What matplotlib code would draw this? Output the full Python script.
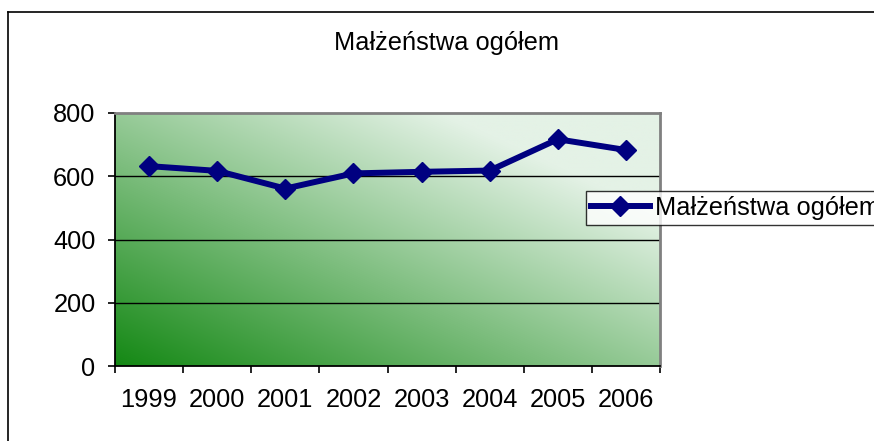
import numpy as np
import matplotlib
matplotlib.use("Agg")
import matplotlib.pyplot as plt
from matplotlib.lines import Line2D

years = ["1999", "2000", "2001", "2002", "2003", "2004", "2005", "2006"]
values = [632, 617, 561, 609, 614, 618, 717, 683]
series_name = "Małżeństwa ogółem"
title = "Małżeństwa ogółem"
y_ticks = [0, 200, 400, 600, 800]

plt.rcParams['font.family'] = ['Liberation Sans', 'DejaVu Sans']

W, H = 874, 441
FS = 18.3
fig = plt.figure(figsize=(W / 100, H / 100), dpi=100)
fig.patch.set_facecolor("white")

ax = fig.add_axes([115 / W, 1 - 366 / H, 545 / W, 253 / H])

# diagonal gradient background (bottom-left green -> top-right pale)
n = 400
gx, gy = np.meshgrid(np.linspace(0, 1, n), np.linspace(0, 1, n))
t = np.clip((gx + gy) / 1.6, 0, 1)
c0 = np.array([20, 136, 20]) / 255.0
c1 = np.array([228, 242, 230]) / 255.0
img = c0[None, None, :] * (1 - t[..., None]) + c1[None, None, :] * t[..., None]
ax.imshow(img, extent=[0, 1, 0, 1], transform=ax.transAxes, origin="lower",
          aspect="auto", zorder=0, interpolation="bilinear")

x = np.arange(len(years))
ax.plot(x, values, color="#000080", linewidth=4.3, marker="D", markersize=10.5,
        markerfacecolor="#000080", markeredgecolor="#000080", zorder=3,
        label=series_name, solid_joinstyle="round")

ax.set_xlim(-0.5, len(years) - 0.5)
ax.set_ylim(0, 800)
ax.set_yticks(y_ticks)
ax.set_yticklabels([str(v) for v in y_ticks])
ax.set_xticks(x)
ax.set_xticklabels(years)
ax.set_xticks(np.arange(-0.5, len(years), 1.0), minor=True)

for v in y_ticks[1:-1]:
    ax.axhline(v, color="black", linewidth=1.0, zorder=1)

ax.tick_params(axis="x", which="major", length=0, pad=16, labelsize=FS)
ax.tick_params(axis="x", which="minor", length=5, width=1.2, direction="out", color="black")
ax.tick_params(axis="y", which="major", length=5, width=1.2, direction="out", pad=9,
               labelsize=FS, color="black")

ax.spines["left"].set_color("black")
ax.spines["left"].set_linewidth(1.3)
ax.spines["bottom"].set_color("black")
ax.spines["bottom"].set_linewidth(1.3)
ax.spines["top"].set_color("#808080")
ax.spines["top"].set_linewidth(2)
ax.spines["right"].set_color("#808080")
ax.spines["right"].set_linewidth(2)
for s in ax.spines.values():
    s.set_zorder(4)

fig.text(447 / W, 1 - 43 / H, title, ha="center", va="center", fontsize=FS)

leg = fig.legend(loc="upper left", bbox_to_anchor=(586 / W, 1 - 191 / H),
                 fontsize=FS, frameon=True, fancybox=False, shadow=False,
                 handlelength=2.3, handletextpad=0.2, borderpad=0.2,
                 borderaxespad=0)
leg.get_frame().set_edgecolor("black")
leg.get_frame().set_linewidth(1.0)

# outer chart frame (top and left edges visible)
fig.add_artist(Line2D([8 / W, 8 / W], [-0.01, 1 - 12 / H], transform=fig.transFigure,
                      color="black", linewidth=1.2))
fig.add_artist(Line2D([8 / W, 1.01], [1 - 12 / H, 1 - 12 / H], transform=fig.transFigure,
                      color="black", linewidth=1.2))

fig.savefig("out.png", dpi=100)
